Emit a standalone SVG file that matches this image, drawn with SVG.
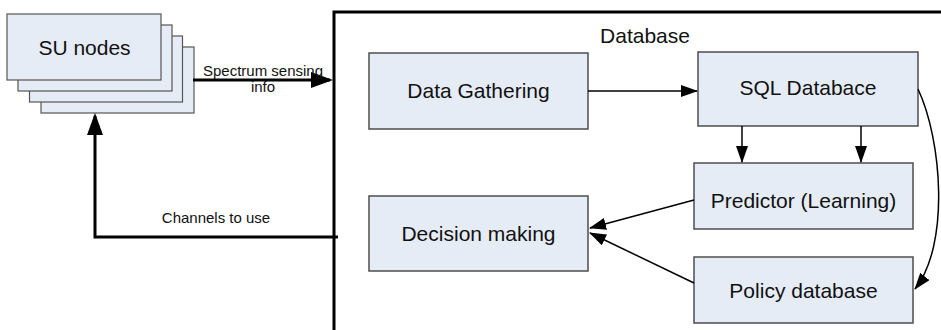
<svg xmlns="http://www.w3.org/2000/svg" width="941" height="330" viewBox="0 0 941 330">
  <style>
    .box { fill: #E6ECF6; stroke: #4d4d4d; stroke-width: 1.5; }
    .stack { fill: #E6ECF6; stroke: #555555; stroke-width: 1.2; }
    .lbl { font-family: "Liberation Sans", Arial, sans-serif; font-size: 21px; fill: #111111; text-anchor: middle; }
    .small { font-family: "Liberation Sans", Arial, sans-serif; font-size: 15px; fill: #111111; text-anchor: middle; }
    .thin { fill: none; stroke: #000000; stroke-width: 1.5; marker-end: url(#arrowSmall); }
    .thick { fill: none; stroke: #000000; stroke-width: 3; marker-end: url(#arrowBig); }
  </style>
  <defs>
    <marker id="arrowBig" viewBox="0 0 22 16" refX="19" refY="8" markerWidth="22" markerHeight="16" markerUnits="userSpaceOnUse" orient="auto">
      <path d="M0,0 L22,8 L0,16 z" fill="#000000"/>
    </marker>
    <marker id="arrowSmall" viewBox="0 0 17 12" refX="16" refY="6" markerWidth="17" markerHeight="12" markerUnits="userSpaceOnUse" orient="auto">
      <path d="M0,0 L17,6 L0,12 z" fill="#000000"/>
    </marker>
  </defs>

  <rect width="941" height="330" fill="#ffffff"/>

  <!-- database container, running off the right and bottom edges -->
  <g id="database">
    <rect x="334" y="12" width="700" height="400" fill="none" stroke="#000000" stroke-width="3"/>
    <text class="lbl" x="645" y="43">Database</text>
  </g>

  <!-- stacked SU node cards -->
  <g id="su-nodes">
    <rect class="stack" x="41" y="47" width="153" height="66"/>
    <rect class="stack" x="29.5" y="36" width="153" height="66"/>
    <rect class="stack" x="18" y="25" width="154" height="66"/>
    <rect class="stack" x="7" y="14" width="154" height="66"/>
    <text class="lbl" x="84.5" y="55">SU nodes</text>
  </g>

  <g id="data-gathering">
    <rect class="box" x="369" y="53" width="219" height="76"/>
    <text class="lbl" x="478.5" y="98">Data Gathering</text>
  </g>

  <g id="sql-database">
    <rect class="box" x="698" y="52" width="220" height="74"/>
    <text class="lbl" x="808" y="95">SQL Databace</text>
  </g>

  <g id="predictor">
    <rect class="box" x="694" y="163" width="219" height="66"/>
    <text class="lbl" x="803.5" y="208">Predictor (Learning)</text>
  </g>

  <g id="policy-database">
    <rect class="box" x="694" y="257" width="219" height="66"/>
    <text class="lbl" x="803.5" y="298">Policy database</text>
  </g>

  <g id="decision-making">
    <rect class="box" x="369" y="196" width="219" height="75"/>
    <text class="lbl" x="478.5" y="241">Decision making</text>
  </g>

  <g id="connectors">
    <path class="thick" d="M193,80 L330,80"/>
    <text class="small" x="263" y="76">Spectrum sensing</text>
    <text class="small" x="263" y="92">info</text>

    <path class="thick" d="M338,237 L95,237 L95,116"/>
    <text class="small" x="216" y="223">Channels to use</text>

    <path class="thin" d="M588,91 L697,91"/>
    <path class="thin" d="M742,126 L742,162"/>
    <path class="thin" d="M861,126 L861,162"/>
    <path class="thin" d="M694,200 L590,228"/>
    <path class="thin" d="M694,283 L590,233"/>
    <path class="thin" d="M918,89 C942,140 950,245 915,289"/>
  </g>
</svg>
